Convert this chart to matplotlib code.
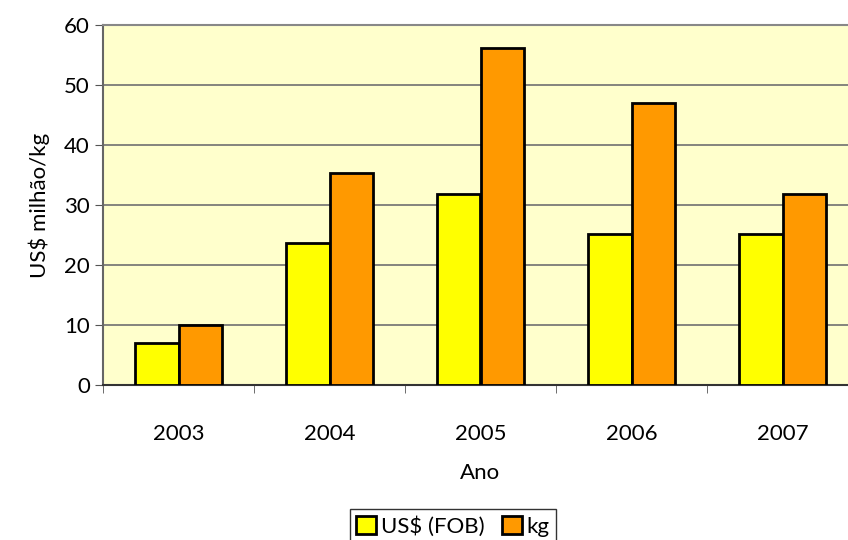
import matplotlib.pyplot as plt
import numpy as np

anos = ['2003', '2004', '2005', '2006', '2007']
usd_fob = [7.0, 23.7, 31.8, 25.2, 25.2]
kg = [10.0, 35.3, 56.1, 47.0, 31.8]

plt.rcParams['font.family'] = ['Lato', 'DejaVu Sans']

fig = plt.figure(figsize=(8.48, 5.4), dpi=100)
ax = fig.add_axes([103/848, 1-385/540, 755/848, 360/540])
ax.set_facecolor('#FFFFCC')

x = np.arange(len(anos))
w = 0.285
ax.bar(x - w/2, usd_fob, w, color='#FFFF00', edgecolor='black', linewidth=2, label='US$ (FOB)', zorder=3)
ax.bar(x + w/2, kg, w, color='#FF9900', edgecolor='black', linewidth=2, label='kg', zorder=3)

ax.set_xlim(-0.5, len(anos) - 0.5)
ax.set_ylim(0, 60)
ax.set_yticks(range(0, 61, 10))
ax.yaxis.grid(True, color='#707070', linewidth=1.2, zorder=0)

ax.set_xticks(x)
ax.set_xticklabels(anos, fontsize=16)
ax.set_xticks(np.arange(-0.5, len(anos)), minor=True)
ax.tick_params(axis='x', which='major', length=0, pad=28)
ax.tick_params(axis='x', which='minor', length=6, color='#555555')
ax.tick_params(axis='y', labelsize=16, length=6, color='#555555')

ax.spines['right'].set_visible(False)
ax.spines['top'].set_color('#888888')
ax.spines['top'].set_linewidth(1.5)
ax.spines['left'].set_color('#666666')
ax.spines['bottom'].set_color('#333333')
ax.spines['left'].set_linewidth(1.5)
ax.spines['bottom'].set_linewidth(1.5)

ax.set_xlabel('Ano', fontsize=16, labelpad=14)
ax.set_ylabel('US$ milhão/kg', fontsize=16, labelpad=10)

leg = fig.legend(loc='upper center', bbox_to_anchor=(453/848, 1-498/540), ncol=2,
                 fontsize=16, frameon=True, fancybox=False, edgecolor='black',
                 handlelength=0.9, handleheight=0.9, handletextpad=0.2,
                 columnspacing=0.8, borderpad=0.3)
leg.get_frame().set_linewidth(1)

fig.savefig('out.png', dpi=100)
